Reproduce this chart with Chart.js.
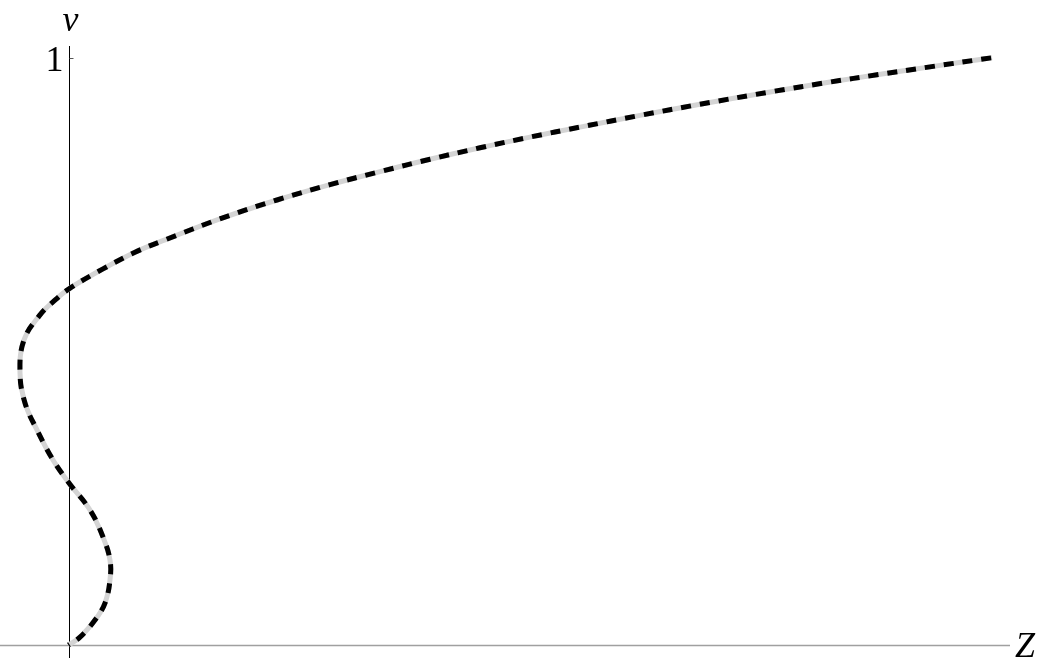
<!DOCTYPE html>
<html>
<head>
<meta charset="utf-8">
<script src="https://cdn.jsdelivr.net/npm/chart.js@4/dist/chart.umd.min.js"></script>
<style>
  html, body { margin: 0; padding: 0; background: #fff; }
  #chart { display: block; }
  .warm { position: absolute; left: -9999px; font-family: "Liberation Serif", "DejaVu Serif", serif; }
</style>
</head>
<body>
<span class="warm">1 <i>vZ</i></span>
<canvas id="chart" width="1040" height="667"></canvas>
<script>
// curve v(Z), in order along the curve
const zValues = [0, 0.115, 0.265, 0.365, 0.415, 0.415, 0.345, 0.215, 0.005, -0.155,
                 -0.315, -0.435, -0.485, -0.445, -0.285, -0.155, 0.005, 0.345, 0.665, 0.965,
                 1.535, 2.085, 2.615, 3.115, 3.615, 4.115, 4.615, 5.115, 5.715, 6.315,
                 7.045, 7.615, 8.085, 8.615, 9.235];
const vValues = [0, 0.0136, 0.0426, 0.0716, 0.1107, 0.1448, 0.184, 0.230, 0.276, 0.3152,
                 0.3663, 0.4123, 0.4634, 0.5196, 0.5622, 0.5843, 0.6065, 0.6405, 0.6688, 0.6899,
                 0.7269, 0.7578, 0.784, 0.8061, 0.8271, 0.8467, 0.8649, 0.8819, 0.9019, 0.9208,
                 0.9426, 0.9586, 0.971, 0.9845, 1.0];
const vTicks = [1];
const axisLabels = { x: 'Z', y: 'v' };

const points = zValues.map((z, i) => ({ x: z, y: vValues[i] }));
const SERIF = '"Liberation Serif", "DejaVu Serif", serif';

// axes drawn at Z = 0 and v = 0, like a Mathematica plot
const axesPlugin = {
    id: 'axes',
    beforeDatasetsDraw(chart) {
        const { ctx, chartArea, scales } = chart;
        const x0 = Math.round(scales.x.getPixelForValue(0)) + 0.5;
        const y0 = Math.round(scales.y.getPixelForValue(0)) + 0.5;
        ctx.save();
        ctx.lineWidth = 1.3;
        ctx.strokeStyle = '#a0a0a0';
        ctx.beginPath();
        ctx.moveTo(chartArea.left, y0);
        ctx.lineTo(chartArea.right, y0);
        ctx.stroke();
        ctx.strokeStyle = '#000';
        ctx.lineWidth = 1;
        ctx.beginPath();
        ctx.moveTo(x0, chartArea.top);
        ctx.lineTo(x0, chartArea.bottom);
        ctx.stroke();

        ctx.font = '36px ' + SERIF;
        ctx.fillStyle = '#000';
        ctx.textAlign = 'right';
        ctx.textBaseline = 'alphabetic';
        vTicks.forEach(t => {
            const ty = Math.round(scales.y.getPixelForValue(t)) + 0.5;
            ctx.strokeStyle = '#555';
            ctx.beginPath();
            ctx.moveTo(x0, ty);
            ctx.lineTo(x0 + 4, ty);
            ctx.stroke();
            ctx.fillText(String(t), x0 - 6, ty + 12);
        });

        ctx.font = 'italic 36px ' + SERIF;
        ctx.textAlign = 'center';
        ctx.fillText(axisLabels.y, x0 + 1, 31);
        ctx.textAlign = 'left';
        ctx.fillText(axisLabels.x, chartArea.right + 5, y0 + 11);
        ctx.restore();
    }
};

function drawChart() {
    new Chart(document.getElementById('chart'), {
        type: 'scatter',
        data: {
            datasets: [{
                data: points,
                showLine: true,
                borderColor: '#000',
                borderWidth: 5,
                borderDash: [10, 9],
                borderDashOffset: 9,
                borderCapStyle: 'butt',
                pointRadius: 0,
                tension: 0.4,
                order: 0
            }, {
                data: points,
                showLine: true,
                borderColor: '#d4d4d4',
                borderWidth: 5,
                pointRadius: 0,
                tension: 0.4,
                order: 1
            }]
        },
        options: {
            responsive: false,
            animation: false,
            devicePixelRatio: 1,
            layout: { padding: { left: 0, right: 30, top: 46, bottom: 9 } },
            plugins: { legend: { display: false }, tooltip: { enabled: false } },
            scales: {
                x: { type: 'linear', min: -0.685, max: 9.415, display: false },
                y: { type: 'linear', min: -0.022, max: 1.02, display: false }
            }
        },
        plugins: [axesPlugin]
    });
}

Promise.all([
    document.fonts.load('36px "Liberation Serif"'),
    document.fonts.load('italic 36px "Liberation Serif"')
]).then(drawChart, drawChart);
</script>
</body>
</html>
